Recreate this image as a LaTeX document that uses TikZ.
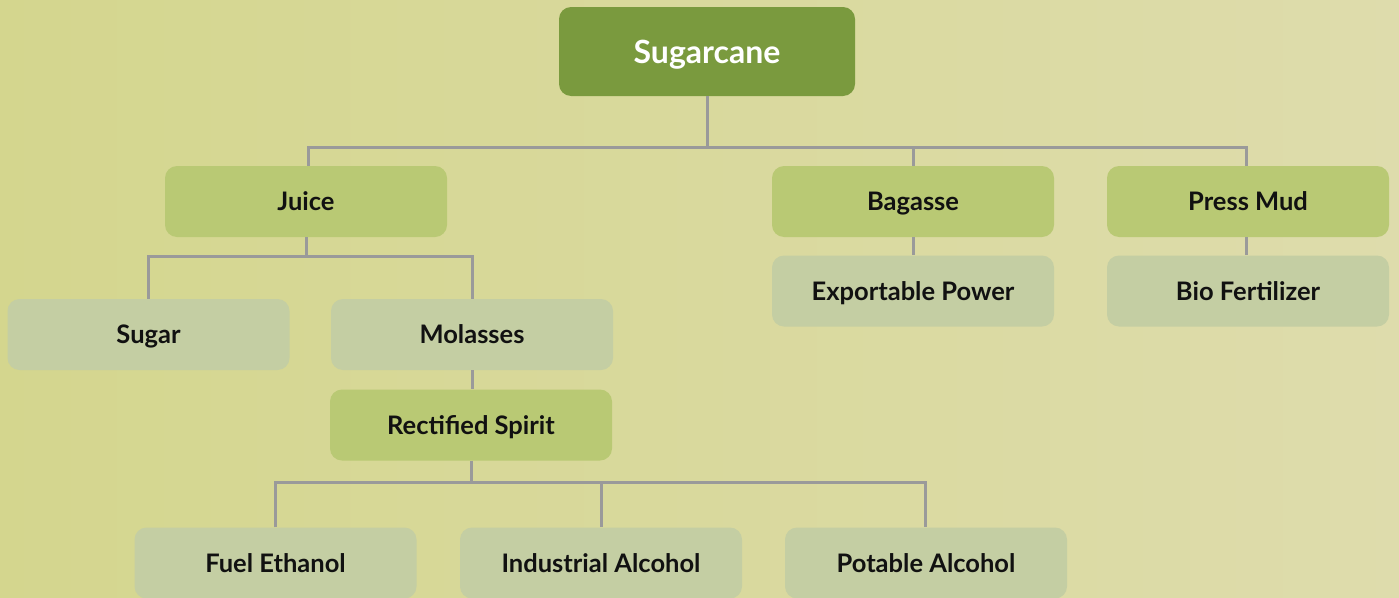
\documentclass[tikz,border=0pt]{standalone}
\usepackage{fontspec}
\setmainfont{Lato}
\definecolor{bgL}{HTML}{D4D68E}
\definecolor{bgR}{HTML}{DEDCAC}
\definecolor{dark}{HTML}{7A9A3E}
\definecolor{mid}{HTML}{B9C974}
\definecolor{pale}{HTML}{C4CEA3}
\definecolor{wire}{HTML}{9A9A9A}
\definecolor{ink}{HTML}{111111}
\tikzset{
  box/.style={rounded corners=12pt, minimum width=282pt, minimum height=71pt, inner sep=0pt, font=\fontsize{25.5}{29}\selectfont\bfseries, text=ink, text height=18pt, text depth=0pt},
  topbox/.style={box, fill=dark, minimum width=296pt, minimum height=89pt, text=white, font=\fontsize{32}{36}\selectfont\bfseries, text height=23pt},
  midbox/.style={box, fill=mid},
  palebox/.style={box, fill=pale},
  wireline/.style={draw=wire, line width=3pt}
}
\begin{document}
\begin{tikzpicture}[x=1pt,y=-1pt]
\useasboundingbox (0,0) rectangle (1399,597);
\shade[left color=bgL, right color=bgR] (0,0) rectangle (1399,597);
\node[topbox] (sc) at (707,51.5) {Sugarcane};
\node[midbox] (juice) at (306,201.5) {Juice};
\node[midbox] (bag) at (913,201.5) {Bagasse};
\node[midbox] (pm) at (1248,201.5) {Press Mud};
\node[palebox] (exp) at (913,291) {Exportable Power};
\node[palebox] (bio) at (1248,291) {Bio Fertilizer};
\node[palebox] (sugar) at (148.5,334.5) {Sugar};
\node[palebox] (mol) at (472,334.5) {Molasses};
\node[midbox] (rs) at (471,425) {Rectified Spirit};
\node[palebox] (fe) at (275.5,563) {Fuel Ethanol};
\node[palebox] (ia) at (601,563) {Industrial Alcohol};
\node[palebox] (pa) at (926,563) {Potable Alcohol};
\coordinate (h1) at (707,147);
\coordinate (h2) at (306,256);
\coordinate (h3) at (471,482);
\path[wireline] (sc.south) -- (h1);
\path[wireline] (juice.north -| 308,0) |- (h1) -| (pm.north -| 1246,0);
\path[wireline] (h1) -| (bag.north);
\path[wireline] (juice.south) -- (h2);
\path[wireline] (sugar.north -| 148,0) |- (h2) -| (mol.north);
\path[wireline] (mol.south -| 472,0) -- (rs.north -| 472,0);
\path[wireline] (bag.south) -- (exp.north);
\path[wireline] (pm.south -| 1246,0) -- (bio.north -| 1246,0);
\path[wireline] (rs.south) -- (h3);
\path[wireline] (fe.north) |- (h3) -| (pa.north -| 925,0);
\path[wireline] (ia.north |- h3) -- (ia.north);
\end{tikzpicture}
\end{document}
